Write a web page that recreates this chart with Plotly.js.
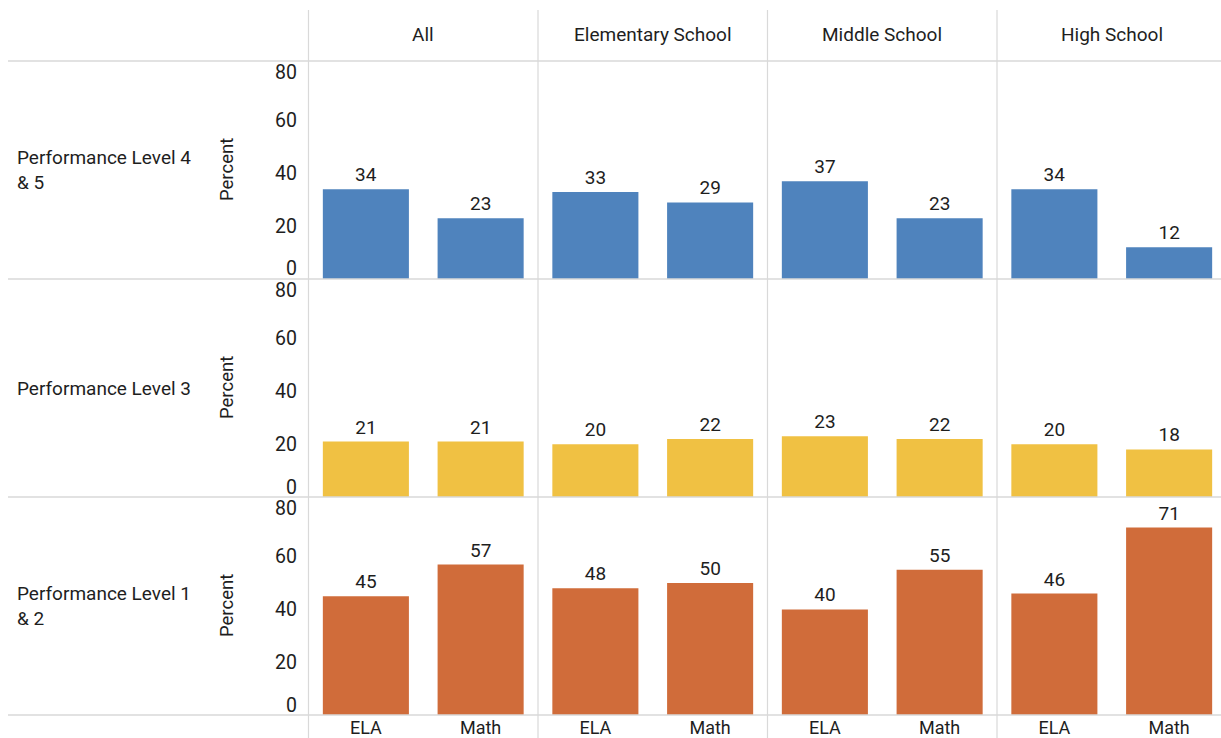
<!DOCTYPE html>
<html><head><meta charset="utf-8">
<script src="https://cdn.plot.ly/plotly-3.0.1.min.js"></script>
<style>html,body{margin:0;padding:0;overflow:hidden;background:#fff;width:1221px;height:738px}#chart{width:1228px;height:738px}</style>
</head><body><div id="chart"></div>
<script>
// ---- data ----
const schoolLevels = ["All", "Elementary School", "Middle School", "High School"];
const subjects = ["ELA", "Math"];
const performanceLevels = ["Performance Level 4<br>& 5", "Performance Level 3", "Performance Level 1<br>& 2"];
const level45 = [[34, 23], [33, 29], [37, 23], [34, 12]];
const level3  = [[21, 21], [20, 22], [23, 22], [20, 18]];
const level12 = [[45, 57], [48, 50], [40, 55], [46, 71]];
const yTicks = [0, 20, 40, 60, 80];
const yAxisTitle = "Percent";

// ---- layout helpers ----
const W = 1228, H = 738;
const FONT = "Roboto, 'Open Sans', sans-serif";
const TXT = "#1e1e1e";
const GRID = "#d9d9d9";
const colLeft = 308.5, colW = 229.5;
const rowTop = 61, rowH = 218;
const rowData = [level45, level3, level12];
const rowColors = ["#4f83bd", "#f0c143", "#d06c3a"];
const px = x => x / W;
const py = y => 1 - y / H;

const traces = [];
const layout = {
  width: W, height: H,
  margin: {l: 0, r: 0, t: 0, b: 0},
  paper_bgcolor: "#fff", plot_bgcolor: "#fff",
  showlegend: false,
  bargap: 0.25,
  font: {family: FONT, size: 18, color: TXT},
  annotations: [], shapes: []
};

for (let r = 0; r < 3; r++) {
  const top = rowTop + r * rowH, bot = top + rowH;
  for (let c = 0; c < 4; c++) {
    const n = r * 4 + c + 1;
    const xa = "xaxis" + (n === 1 ? "" : n), ya = "yaxis" + (n === 1 ? "" : n);
    const xr = "x" + (n === 1 ? "" : n), yr = "y" + (n === 1 ? "" : n);
    const vals = rowData[r][c];
    traces.push({
      type: "bar", x: subjects, y: vals, xaxis: xr, yaxis: yr,
      marker: {color: rowColors[r], line: {width: 0}},
      text: vals.map(String), textposition: "outside", cliponaxis: false,
      textfont: {family: FONT, size: 19, color: TXT},
      hoverinfo: "skip"
    });
    layout[xa] = {
      domain: [px(colLeft + c * colW), px(colLeft + (c + 1) * colW)],
      anchor: yr, showgrid: false, zeroline: false, showline: false, ticks: "",
      showticklabels: r === 2, ticklabelstandoff: 0,
      tickfont: {family: FONT, size: 18, color: TXT},
      fixedrange: true
    };
    layout[ya] = {
      domain: [py(bot), py(top)], anchor: xr, range: [0, 82.6],
      showgrid: false, zeroline: false, showline: false, showticklabels: false,
      ticks: "", fixedrange: true
    };
  }
  // y tick labels (through the row's first y axis)
  const yref = "y" + (r * 4 + 1 === 1 ? "" : (r * 4 + 1));
  yTicks.forEach(v => {
    layout.annotations.push({
      xref: "paper", yref: yref, x: px(299), y: v, xanchor: "right", yanchor: "middle",
      yshift: v === 0 ? 10 : (v === 80 ? -5 : 0),
      text: String(v), showarrow: false, font: {family: FONT, size: 19.5, color: TXT}
    });
  });
  // y axis title
  layout.annotations.push({
    xref: "paper", yref: "paper", x: px(227), y: py((top + bot) / 2),
    xanchor: "center", yanchor: "middle", textangle: -90,
    text: yAxisTitle, showarrow: false, font: {family: FONT, size: 18.5, color: TXT}
  });
  // row label
  layout.annotations.push({
    xref: "paper", yref: "paper", x: px(15), y: py((top + bot) / 2),
    xanchor: "left", yanchor: "middle", align: "left",
    text: performanceLevels[r], showarrow: false, font: {family: FONT, size: 19, color: TXT}
  });
  // row separator
  layout.shapes.push({type: "line", xref: "paper", yref: "paper",
    x0: px(8), x1: 1, y0: py(bot), y1: py(bot), line: {color: GRID, width: 1.5}});
}
// header separator
layout.shapes.push({type: "line", xref: "paper", yref: "paper",
  x0: px(8), x1: 1, y0: py(rowTop), y1: py(rowTop), line: {color: GRID, width: 1.5}});
// column headers and dividers
schoolLevels.forEach((s, c) => {
  layout.annotations.push({
    xref: "paper", yref: "paper", x: px(colLeft + (c + 0.5) * colW), y: py(34),
    xanchor: "center", yanchor: "middle", text: s, showarrow: false,
    font: {family: FONT, size: 19, color: TXT}
  });
  layout.shapes.push({type: "line", xref: "paper", yref: "paper",
    x0: px(colLeft + c * colW), x1: px(colLeft + c * colW), y0: 0, y1: py(10),
    line: {color: GRID, width: 1.2}});
});

Plotly.newPlot("chart", traces, layout, {staticPlot: true, displayModeBar: false});
</script></body></html>
